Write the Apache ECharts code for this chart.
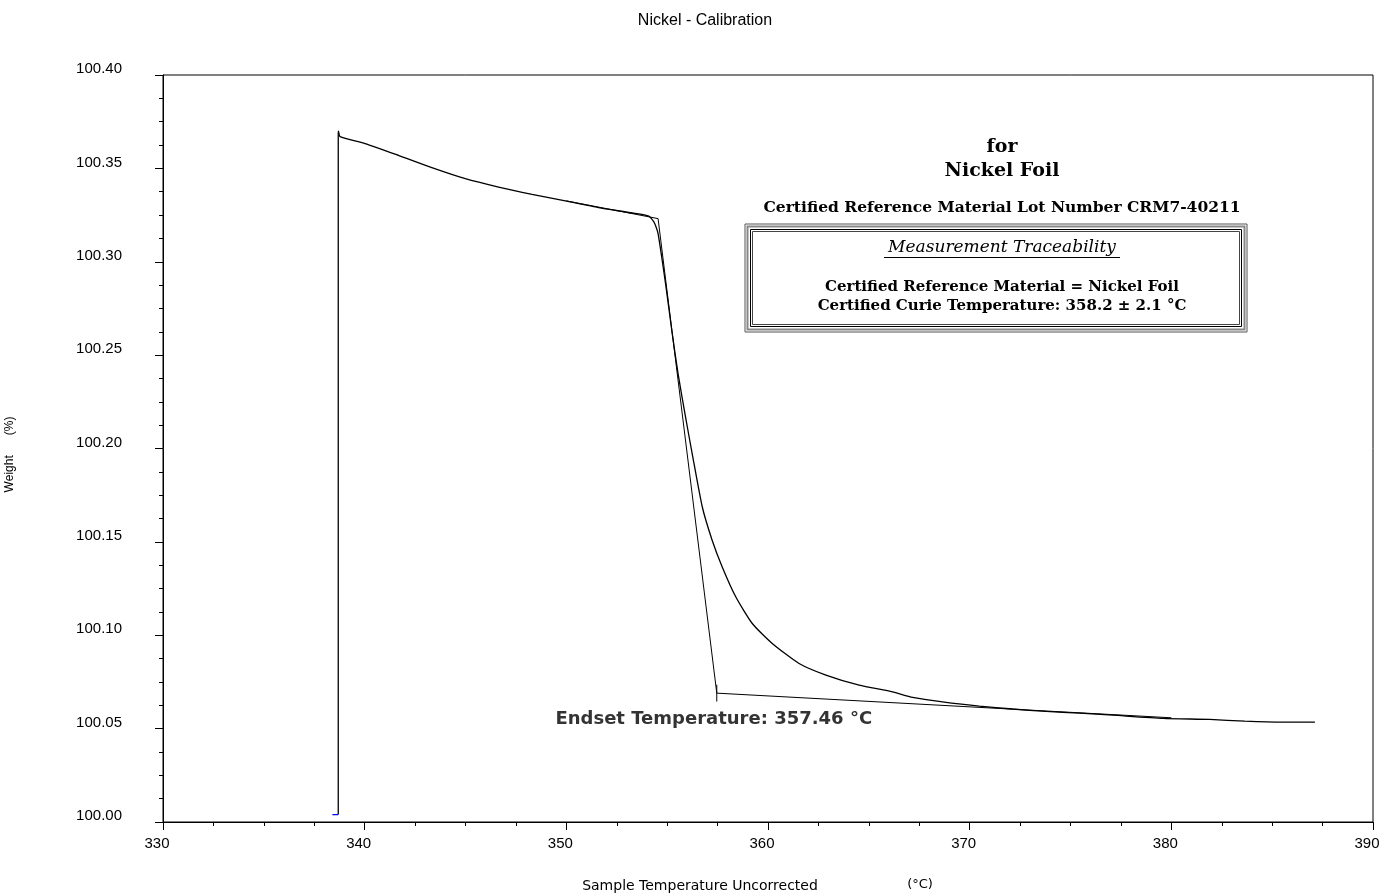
<!DOCTYPE html>
<html>
<head>
<meta charset="utf-8">
<title>Nickel - Calibration</title>
<script src="https://cdn.jsdelivr.net/npm/echarts@6/dist/echarts.min.js"></script>
<style>
  html,body{margin:0;padding:0;background:#fff;}
  #chart{width:1385px;height:896px;}
</style>
</head>
<body>
<div id="chart"></div>
<script>
// measured curve (temperature in °C, weight in %)
var curveT = [338.69, 338.70, 338.78, 340.02, 341.67, 343.33, 344.99, 346.64, 348.30, 349.95,
              351.61, 353.27, 354.09, 354.34, 354.45, 354.55, 354.92, 355.25, 355.54, 355.91, 356.24,
              356.74, 357.23, 357.73, 358.40, 359.22, 360.21, 361.54, 362.87, 364.52, 366.17, 367.17,
              368.83, 370.48, 372.13, 373.79, 375.45, 377.10, 379.59, 381.90, 383.64, 385.47, 387.12];
var curveW = [100.369, 100.370, 100.367, 100.3633, 100.3570, 100.3504, 100.3445, 100.3400, 100.3361, 100.3326,
              100.3290, 100.3261, 100.3244, 100.3213, 100.3186, 100.3151, 100.2883, 100.2616, 100.2401, 100.2169, 100.1973,
              100.1688, 100.1509, 100.1366, 100.1206, 100.1063, 100.0956, 100.0849, 100.0787, 100.0733, 100.0697, 100.0667,
              100.0640, 100.0621, 100.0605, 100.0592, 100.0583, 100.0572, 100.0555, 100.0549, 100.0540, 100.0535, 100.0535];
// jump at the start of the record
var jumpT = [338.69, 338.69];
var jumpW = [100.004, 100.369];
// short blue piece before the jump
var preT = [338.40, 338.69];
var preW = [100.004, 100.004];
// endset construction lines
var tangentT = [350.00, 354.55, 357.46, 380.00];
var tangentW = [100.3326, 100.3231, 100.0690, 100.0558];
var endsetT = 357.46;
var endsetW = 100.0690;
var endsetLabel = 'Endset Temperature: 357.46 °C';

var xMin = 330, xMax = 390, xStep = 10;
var yMin = 100.00, yMax = 100.40, yStep = 0.05;

function pairs(a, b){
    var out = [];
    for (var i = 0; i < a.length; i++) out.push([a[i], b[i]]);
    return out;
}

var sans = 'Arial, "Liberation Sans", sans-serif';
var wide = '"DejaVu Sans", Arial, sans-serif';
var serif = '"DejaVu Serif", "Liberation Serif", serif';

function certText(txt, y, font){
    return {type: 'text', x: 1002, y: y, z: 10,
        style: {text: txt, align: 'center', verticalAlign: 'middle', font: font, fill: '#000'}};
}

var myChart = echarts.init(document.getElementById('chart'));
var option = {
    backgroundColor: '#fff',
    animation: false,
    title: {
        text: 'Nickel - Calibration',
        left: 700, top: 8, textAlign: 'center',
        textStyle: {fontFamily: sans, fontSize: 16, fontWeight: 'normal', color: '#000'}
    },
    grid: {left: 163, right: 12, top: 75, bottom: 74, outerBoundsMode: 'none', containLabel: false,
        show: true, borderColor: '#000', borderWidth: 1},
    xAxis: {
        type: 'value', min: xMin, max: xMax, interval: xStep,
        name: 'Sample Temperature Uncorrected',
        nameLocation: 'middle', nameGap: 57,
        nameTextStyle: {fontFamily: wide, fontSize: 14, color: '#000', padding: [0, 136, 0, 0]},
        axisLine: {lineStyle: {color: '#000', width: 1}},
        axisTick: {length: 8, lineStyle: {color: '#000'}},
        minorTick: {show: true, splitNumber: 4, length: 4, lineStyle: {color: '#000'}},
        splitLine: {show: false},
        axisLabel: {fontFamily: sans, fontSize: 15, color: '#000', margin: 14, padding: [0, 12, 0, 0]}
    },
    yAxis: {
        type: 'value', min: yMin, max: yMax, interval: yStep,
        name: 'Weight      (%)',
        nameLocation: 'middle', nameGap: 147, nameRotate: 90,
        nameTextStyle: {fontFamily: sans, fontSize: 12, color: '#000', padding: [0, 12, 0, 0]},
        axisLine: {show: true, lineStyle: {color: '#000', width: 1}},
        axisTick: {show: true, length: 8, lineStyle: {color: '#000'}},
        minorTick: {show: true, splitNumber: 4, length: 4, lineStyle: {color: '#000'}},
        splitLine: {show: false},
        axisLabel: {fontFamily: sans, fontSize: 15, color: '#000', margin: 41,
            verticalAlign: 'bottom', lineHeight: 12,
            formatter: function(v){ return v.toFixed(2); }}
    },
    series: [
        {
            type: 'line', data: pairs(curveT, curveW), symbol: 'none',
            smooth: 0.2,
            lineStyle: {color: '#000', width: 1.3}, z: 3
        },
        {
            type: 'line', data: pairs(jumpT, jumpW), symbol: 'none',
            lineStyle: {color: '#000', width: 1.3}, z: 3
        },
        {
            type: 'line', data: pairs(preT, preW), symbol: 'none',
            lineStyle: {color: '#0000ff', width: 1.3}, z: 4
        },
        {
            type: 'line', data: pairs(tangentT, tangentW), symbol: 'none',
            lineStyle: {color: '#000', width: 1}, z: 2
        },
        {
            type: 'line', data: [[endsetT, endsetW - 0.0045], [endsetT, endsetW + 0.0045]], symbol: 'none',
            lineStyle: {color: '#000', width: 1}, z: 2
        },
        {
            type: 'scatter', data: [[endsetT, endsetW]], symbolSize: 0, silent: true,
            label: {
                show: true, position: 'bottom', distance: 17, offset: [-3, 0],
                formatter: endsetLabel,
                fontFamily: wide, fontSize: 18, fontWeight: 'bold', color: '#000'
            }
        }
    ],
    graphic: [
        {type: 'text', x: 920, y: 885, style: {text: '(°C)', align: 'center', verticalAlign: 'middle',
            font: '13px ' + wide, fill: '#000'}},
        certText('for', 147, 'bold 19px ' + serif),
        certText('Nickel Foil', 171, 'bold 19px ' + serif),
        certText('Certified Reference Material Lot Number CRM7-40211', 208, 'bold 15.5px ' + serif),
        {type: 'rect', z: 9, shape: {x: 745, y: 224, width: 502, height: 108}, style: {fill: '#fff', stroke: '#555', lineWidth: 1}},
        {type: 'rect', z: 9, shape: {x: 747.5, y: 226.5, width: 497, height: 103}, style: {fill: 'none', stroke: '#888', lineWidth: 2}},
        {type: 'rect', z: 9, shape: {x: 750.5, y: 229.5, width: 491, height: 97}, style: {fill: 'none', stroke: '#000', lineWidth: 1}},
        {type: 'rect', z: 9, shape: {x: 752.5, y: 231.5, width: 487, height: 93}, style: {fill: 'none', stroke: '#444', lineWidth: 1}},
        certText('Measurement Traceability', 248, 'italic 17px ' + serif),
        {type: 'rect', z: 10, shape: {x: 884, y: 257, width: 236, height: 1}, style: {fill: '#000'}},
        certText('Certified Reference Material = Nickel Foil', 287, 'bold 15px ' + serif),
        certText('Certified Curie Temperature: 358.2 ± 2.1 °C', 306, 'bold 15px ' + serif)
    ]
};
myChart.setOption(option);
</script>
</body>
</html>
